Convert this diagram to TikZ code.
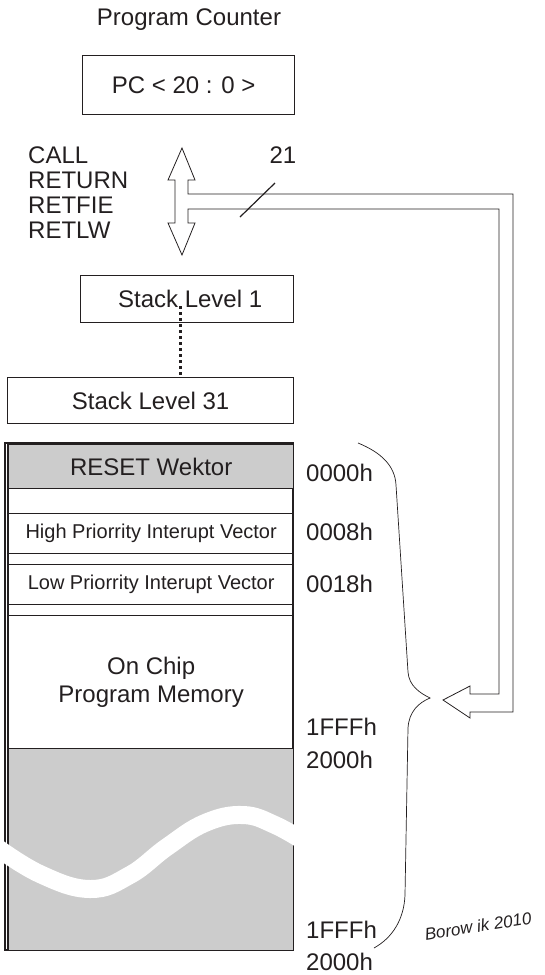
\documentclass[tikz,border=0pt]{standalone}
\usepackage{fontspec}
\setmainfont{Liberation Sans}
\usepackage{tikz}
\definecolor{MemGray}{RGB}{204,204,204}
\definecolor{LineDark}{RGB}{35,31,32}

\tikzset{
  plain/.style={inner sep=0pt, text=LineDark, font=\fontsize{24}{28}\selectfont},
  regbox/.style={
    draw=LineDark,
    line width=1.3pt,
    inner sep=0pt,
    anchor=north west,
    align=center,
    text=LineDark,
    font=\fontsize{24}{28}\selectfont
  },
  vecbox/.style={regbox, font=\fontsize{20}{24}\selectfont},
  bus/.style={draw=LineDark, line width=0.8pt, line join=miter},
  stackdots/.style={draw=LineDark, line width=3pt, dash pattern=on 3pt off 3pt},
  brace/.style={draw=LineDark, line width=0.7pt}
}

\begin{document}
\begin{tikzpicture}[x=1pt,y=-1pt]
\useasboundingbox (0,0) rectangle (544,975);

% program counter
\node[plain, anchor=base] (pcname) at (189,25) {Program Counter};
\node[regbox, minimum width=212pt, minimum height=59pt] (pc) at (82,55) {PC < 20 : 0 >\hspace*{10pt}};

% instructions
\foreach \op [count=\i] in {CALL,RETURN,RETFIE,RETLW}
  \node[plain, anchor=base west] (op\i) at (28,138+25*\i) {\op};

% return address bus
\coordinate (pctip) at (182,148);
\coordinate (stktip) at (182,255);
\coordinate (memtip) at (443,700);
\draw[bus] (pctip) -- (195,180) -- (188,180) -- (188,194) -- (513,194)
  -- (513,712) -- (470,712) -- (470,718) -- (memtip) -- (470,686)
  -- (470,694) -- (499,694) -- (499,209) -- (188,209) -- (188,223)
  -- (195,223) -- (stktip) -- (168,223) -- (175,223) -- (175,180)
  -- (168,180) -- cycle;
\draw[bus, line width=1.2pt] (240,217) -- (275,183);
\node[plain, anchor=base] (buswidth) at (283,163) {21};

% stack
\node[regbox, minimum width=213pt, minimum height=47pt] (stack1) at (80,275) {\hspace*{6pt}Stack Level 1};
\node[regbox, minimum width=286pt, minimum height=46pt] (stack31) at (7,377) {Stack Level 31};
\draw[stackdots] ([xshift=-6.5pt,yshift=17pt]stack1.south) -- ([xshift=30pt,yshift=2pt]stack31.north);

% program memory
\draw[draw=LineDark, line width=1.3pt] (5,443) rectangle (293,950);
\node[regbox, fill=MemGray, minimum width=285pt, minimum height=44pt] (reset) at (8,444) {RESET Wektor};
\node[vecbox, minimum width=285pt, minimum height=40pt] (highvec) at (8,513) {High Priorrity Interupt Vector};
\node[vecbox, minimum width=285pt, minimum height=40pt] (lowvec) at (8,564) {Low Priorrity Interupt Vector};
\node[regbox, minimum width=285pt, minimum height=133pt] (onchip) at (8,615) {On Chip\\Program Memory};
\node[regbox, fill=MemGray, minimum width=285pt, minimum height=202pt] (extmem) at (8,748) {};
\draw[draw=LineDark, line width=1.3pt] (8,443) -- (8,950);

% break in the memory
\begin{scope}
  \clip (2,780) rectangle (295,920);
  \draw[white, line width=18pt] plot[smooth, tension=0.7] coordinates
    {(-5,846) (40,874) (90,889) (130,875) (167,847) (205,823) (243,815) (275,825) (305,842)};
\end{scope}

% addresses
\foreach \addr/\yb [count=\i] in {0000h/481,0008h/540,0018h/592,1FFFh/735,2000h/768,1FFFh/938,2000h/970}
  \node[plain, anchor=base west] (addr\i) at (306,\yb) {\addr};

% range brace
\draw[brace] (358,443) .. controls (380,452) and (395,465) .. (396,485)
  -- (408,672) .. controls (409,686) and (420,693) .. (430,698)
  .. controls (418,703) and (409,712) .. (408,728)
  -- (405,895) .. controls (404,920) and (392,938) .. (374,948);

\node[plain, rotate=9, font=\itshape\fontsize{17}{17}\selectfont] (sign) at (478,926) {Borow ik 2010};
\end{tikzpicture}
\end{document}
